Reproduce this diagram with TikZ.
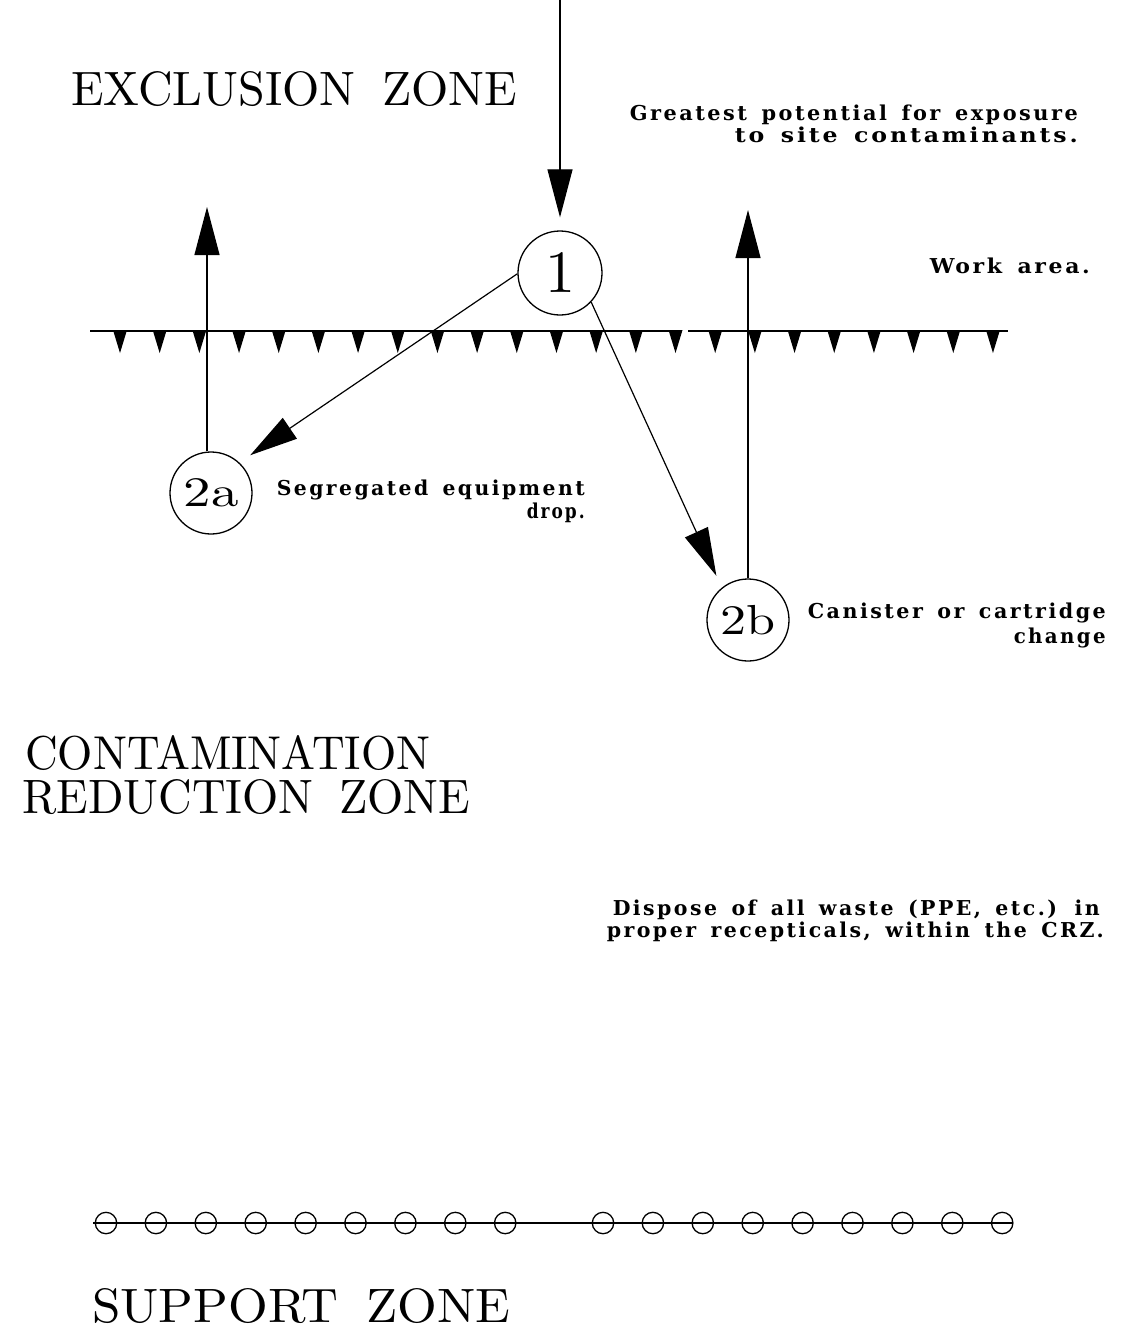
\documentclass[tikz,border=0pt]{standalone}
\usepackage{fontspec}
\usetikzlibrary{arrows.meta}
\newfontfamily\labfont[LetterSpace=12,WordSpace=1.5]{DejaVu Serif}
\newfontfamily\zonefont{lmroman10-regular}[Extension=.otf]
\newcommand\zonetext[2]{\resizebox{#1}{34pt}{\zonefont\fontsize{50}{50}\selectfont #2}}
\newcommand\fitw[2]{\resizebox{#1}{\height}{#2}}
\newcommand\gap{\hspace{0.55em}}
\begin{document}
\begin{tikzpicture}[x=1pt,y=-1pt,
  arr/.style={-{Triangle[length=48pt,width=25pt]}, line width=1.2pt},
  lab/.style={font={\labfont\bfseries\fontsize{20.5}{22}\selectfont}, inner sep=0pt, anchor=base east},
  zone/.style={inner sep=0pt, anchor=base west},
  stn/.style={circle, draw, line width=1.3pt, inner sep=0pt},
  pen/.style={line width=1.3pt}
]
\useasboundingbox[fill=white] (0,0) rectangle (1121,1331);

% zone titles
\node[zone] (ez) at (71,105) {\zonetext{446pt}{EXCLUSION\gap ZONE}};
\node[zone] (crz1) at (25,769) {\zonetext{405pt}{CONTAMINATION}};
\node[zone] (crz2) at (22,813) {\zonetext{448pt}{REDUCTION\gap ZONE}};
\node[zone] (sz) at (92,1322) {\zonetext{418pt}{SUPPORT\gap ZONE}};

% stations
\node[stn, minimum size=84pt] (n1) at (560,273) {\zonefont\fontsize{60}{60}\selectfont 1};
\node[stn, minimum size=82pt] (n2a) at (211,493) {\resizebox{55pt}{\height}{\zonefont\fontsize{42}{42}\selectfont 2a}};
\node[stn, minimum size=82pt] (n2b) at (748,620) {\resizebox{55pt}{\height}{\zonefont\fontsize{42}{42}\selectfont 2b}};

% labels
\node[lab] (g1) at (1078,120) {\fitw{448pt}{Greatest potential for exposure}};
\node[lab] (g2) at (1078,142) {\fitw{343pt}{to site contaminants.}};
\node[lab] (w1) at (1090,273) {\fitw{160pt}{Work area.}};
\node[lab] (s1) at (585,495) {\fitw{308pt}{Segregated equipment}};
\node[lab] (s2) at (585,518) {\fitw{58pt}{drop.}};
\node[lab] (c1) at (1106,618) {\fitw{298pt}{Canister or cartridge}};
\node[lab] (c2) at (1106,643) {\fitw{92pt}{change}};
\node[lab] (d1) at (1100,915) {\fitw{487pt}{Dispose of all waste (PPE, etc.) in}};
\node[lab] (d2) at (1104,937) {\fitw{497pt}{proper recepticals, within the CRZ.}};

% exclusion / CRZ boundary (hotline)
\draw[pen] (90,331) -- (673,331) (688,331) -- (1008,331);
\foreach \i in {0,...,22}{
  \fill ({120+39.68*\i-7},330) -- ({120+39.68*\i+7},330) -- ({120+39.68*\i},353) -- cycle;
}

% CRZ / support zone boundary
\draw[pen] (93,1223) -- (1012,1223);
\foreach \i in {0,...,8}{
  \draw[pen] ({106+49.9*\i},1223) circle[radius=10.7pt];
  \draw[pen] ({603+49.9*\i},1223) circle[radius=10.7pt];
}

% connectors
\coordinate (entry) at (560,0);
\coordinate (exit2a) at (207,207);
\coordinate (exit2b) at (748,210);
\draw[arr, shorten >=13pt] (entry) -- (n1);
\draw[arr, shorten >=13pt] (n1.181) -- (n2a.47);
\draw[arr, shorten >=13pt] (n1.-43) -- (n2b.129);
\draw[arr] (n2a.north -| exit2a) -- (exit2a);
\draw[arr] (n2b.north) -- (exit2b);
\end{tikzpicture}
\end{document}
